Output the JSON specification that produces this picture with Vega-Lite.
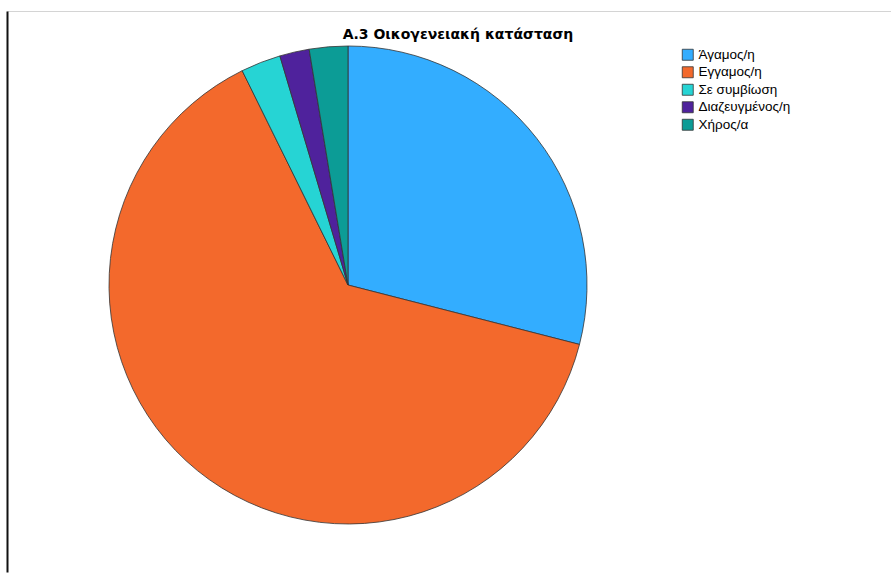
{
  "$schema": "https://vega.github.io/schema/vega-lite/v6.json",
  "autosize": {"type": "fit", "contains": "padding"},
  "width": 891,
  "height": 575,
  "padding": {"left": 4, "top": 11, "right": 0, "bottom": 0},
  "background": "white",
  "config": {"view": {"stroke": null}, "font": "Liberation Sans"},
  "title": {
    "text": "Α.3 Οικογενειακή κατάσταση",
    "orient": "top",
    "anchor": "middle",
    "offset": -31,
    "dx": 9,
    "fontSize": 14,
    "fontWeight": "bold",
    "font": "DejaVu Sans",
    "color": "#000000"
  },
  "layer": [
    {
      "data": {
        "values": [
          {"status": "Άγαμος/η", "percent": 29.0, "order": 1},
          {"status": "Εγγαμος/η", "percent": 63.7, "order": 2},
          {"status": "Σε συμβίωση", "percent": 2.7, "order": 3},
          {"status": "Διαζευγμένος/η", "percent": 2.0, "order": 4},
          {"status": "Χήρος/α", "percent": 2.6, "order": 5}
        ]
      },
      "mark": {"type": "arc", "radius": 239, "stroke": "#333333", "strokeWidth": 0.8, "x": 341, "y": 274},
      "encoding": {
        "theta": {"field": "percent", "type": "quantitative", "stack": true},
        "order": {"field": "order", "type": "quantitative"},
        "color": {
          "field": "status",
          "type": "nominal",
          "sort": ["Άγαμος/η", "Εγγαμος/η", "Σε συμβίωση", "Διαζευγμένος/η", "Χήρος/α"],
          "scale": {
            "domain": ["Άγαμος/η", "Εγγαμος/η", "Σε συμβίωση", "Διαζευγμένος/η", "Χήρος/α"],
            "range": ["#33adff", "#f3692c", "#26d4d4", "#4f229c", "#0c9c96"]
          },
          "legend": {
            "title": null,
            "orient": "none",
            "legendX": 674,
            "legendY": 37,
            "symbolType": "square",
            "symbolSize": 121,
            "symbolStrokeColor": "#333333",
            "symbolStrokeWidth": 0.8,
            "symbolOpacity": 1,
            "labelFontSize": 13.5,
            "labelFont": "Liberation Sans",
            "labelColor": "#000000",
            "labelOffset": 4,
            "rowPadding": 2.5,
            "padding": 0
          }
        }
      }
    },
    {
      "data": {"values": [{"a": 0}]},
      "mark": {"type": "point", "opacity": 0},
      "encoding": {
        "x": {
          "datum": 0,
          "type": "quantitative",
          "scale": {"domain": [0, 1]},
          "axis": {"orient": "top", "domain": true, "domainColor": "#d4d4d4", "domainWidth": 1, "ticks": false, "labels": false, "grid": false, "title": null, "minExtent": 0, "maxExtent": 0}
        },
        "y": {
          "datum": 0,
          "type": "quantitative",
          "scale": {"domain": [0, 1]},
          "axis": {"orient": "left", "domain": true, "domainColor": "#111111", "domainWidth": 2, "ticks": false, "labels": false, "grid": false, "title": null, "minExtent": 0, "maxExtent": 0}
        }
      }
    }
  ]
}
